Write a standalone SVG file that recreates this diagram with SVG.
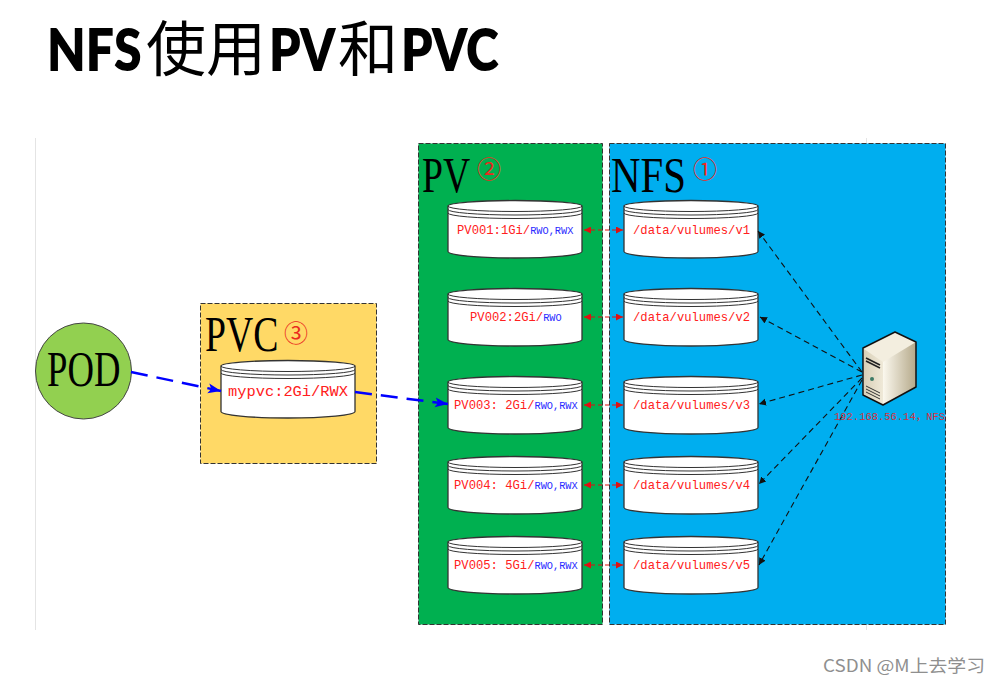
<svg xmlns="http://www.w3.org/2000/svg" width="999" height="684" viewBox="0 0 999 684">
<style>
.t{font-family:"Lato","Noto Sans CJK SC",sans-serif;font-weight:800;font-size:58px;fill:#000}
.tc{font-family:"Noto Sans CJK SC",sans-serif;font-weight:400;font-size:60px;fill:#000}
.big{font-family:"Liberation Serif",serif;font-size:51px;fill:#000}
.num{font-family:"Noto Sans CJK SC",sans-serif;font-weight:400;font-size:24px;fill:#ea2a1e}
.m{font-family:"Liberation Mono","Noto Sans CJK SC",monospace;font-size:12.200px;fill:#ff2020}
.b{fill:#2a2aff;font-size:10.300px}
.area{stroke:#333;stroke-width:1;stroke-dasharray:5 2}
.cyl{fill:#fff;stroke:#333;stroke-width:1.300}
.cl{fill:none;stroke:#333;stroke-width:1}
.blue{stroke:#0000ff;stroke-width:2.500;stroke-dasharray:17 9;fill:none}
.red{stroke:#e01010;stroke-width:1;stroke-dasharray:4 3;fill:none;marker-start:url(#rs);marker-end:url(#re)}
.blk{stroke:#111;stroke-width:1.100;stroke-dasharray:6 4;fill:none;marker-end:url(#k)}
</style>
<defs>
<marker id="bl" markerUnits="userSpaceOnUse" markerWidth="14" markerHeight="12" refX="13" refY="5" orient="auto"><path d="M0 0L13 5L0 10L3 5Z" fill="#0000ff"/></marker>
<marker id="re" markerUnits="userSpaceOnUse" markerWidth="8" markerHeight="8" refX="7" refY="3.500" orient="auto"><path d="M0 0L7 3.500L0 7Z" fill="#e01010"/></marker>
<marker id="rs" markerUnits="userSpaceOnUse" markerWidth="8" markerHeight="8" refX="0" refY="3.500" orient="auto"><path d="M7 0L0 3.500L7 7Z" fill="#e01010"/></marker>
<marker id="k" markerUnits="userSpaceOnUse" markerWidth="8" markerHeight="8" refX="7" refY="3.500" orient="auto"><path d="M0 0L7 3.500L0 7Z" fill="#111"/></marker>
<linearGradient id="sf" x1="0" y1="0" x2="1" y2="0"><stop offset="0" stop-color="#fbf8ee"/><stop offset="1" stop-color="#b5a98a"/></linearGradient>
<linearGradient id="ff" x1="0" y1="0" x2="1" y2="0"><stop offset="0" stop-color="#d9d0b8"/><stop offset="1" stop-color="#efe9d8"/></linearGradient>
<g id="cy">
<path class="cyl" d="M0 5V50.500A67 6.500 0 0 0 134 50.500V5A67 5.500 0 0 0 0 5Z"/>
<path class="cl" d="M0 5A67 5.500 0 0 0 134 5M0 8.500A67 5.500 0 0 0 134 8.500M0 12A67 5.500 0 0 0 134 12"/>
</g>
</defs>
<rect width="999" height="684" fill="#fff"/>
<g id="title">
<text class="t" transform="translate(47 71) scale(.86 1)">NFS</text>
<text class="tc" x="146" y="71">使用</text>
<text class="t" transform="translate(269 71) scale(.86 1)">PV</text>
<text class="tc" x="338" y="71">和</text>
<text class="t" transform="translate(401 71) scale(.86 1)">PVC</text>
</g>
<g id="guides" stroke="#e4e4e4" stroke-width="1"><path d="M35.500 138V630M866.500 138V143M866.500 625V630"/></g>
<g id="area-pv"><rect class="area" x="418.500" y="143.500" width="184" height="481" fill="#00b050"/>
<text class="big" transform="translate(422 192) scale(.74 1)">PV</text><text class="num" x="477" y="178">②</text></g>
<g id="area-nfs"><rect class="area" x="609.500" y="143.500" width="336" height="481" fill="#00aeef"/>
<text class="big" transform="translate(611 192) scale(.8 1)">NFS</text><text class="num" x="693" y="178">①</text></g>
<g id="area-pvc"><rect class="area" x="200.500" y="303.500" width="176" height="160" fill="#ffd966"/>
<text class="big" transform="translate(205 351) scale(.74 1)">PVC</text><text class="num" x="284" y="342">③</text></g>
<g id="pod"><circle cx="83.500" cy="371" r="48" fill="#92d050" stroke="#444" stroke-width="1"/>
<text class="big" transform="translate(47 386) scale(.72 1)">POD</text></g>
<g id="mypvc"><use href="#cy" x="221" y="361"/><text class="m" x="228" y="396" style="font-size:15px" textLength="120" lengthAdjust="spacingAndGlyphs">mypvc:2Gi/RWX</text></g>
<g id="pv001"><use href="#cy" x="448" y="201"/><text class="m" x="457" y="234">PV001:1Gi/<tspan class="b">RWO,RWX</tspan></text></g>
<g id="pv002"><use href="#cy" x="448" y="289"/><text class="m" x="470" y="321">PV002:2Gi/<tspan class="b">RWO</tspan></text></g>
<g id="pv003"><use href="#cy" x="448" y="377"/><text class="m" x="454" y="409">PV003: 2Gi/<tspan class="b">RWO,RWX</tspan></text></g>
<g id="pv004"><use href="#cy" x="448" y="457"/><text class="m" x="454" y="489">PV004: 4Gi/<tspan class="b">RWO,RWX</tspan></text></g>
<g id="pv005"><use href="#cy" x="448" y="537"/><text class="m" x="454" y="569">PV005: 5Gi/<tspan class="b">RWO,RWX</tspan></text></g>
<g id="v1"><use href="#cy" x="624" y="201"/><text class="m" x="633" y="234">/data/vulumes/v1</text></g>
<g id="v2"><use href="#cy" x="624" y="289"/><text class="m" x="633" y="321">/data/vulumes/v2</text></g>
<g id="v3"><use href="#cy" x="624" y="377"/><text class="m" x="633" y="409">/data/vulumes/v3</text></g>
<g id="v4"><use href="#cy" x="624" y="457"/><text class="m" x="633" y="489">/data/vulumes/v4</text></g>
<g id="v5"><use href="#cy" x="624" y="537"/><text class="m" x="633" y="569">/data/vulumes/v5</text></g>
<g id="connectors">
<path class="blue" marker-end="url(#bl)" d="M131 372L221 391"/>
<path class="blue" marker-end="url(#bl)" d="M355 392L448 404"/>
<path class="red" d="M584 230H623"/><path class="red" d="M584 317H623"/><path class="red" d="M584 405H623"/><path class="red" d="M584 485H623"/><path class="red" d="M584 565H623"/>
<path class="blk" d="M862 372L758 231"/><path class="blk" d="M862 372L760 317"/><path class="blk" d="M862 375L759 404"/><path class="blk" d="M862 378L759 484"/><path class="blk" d="M862 380L759 565"/>
</g>
<g id="server">
<path d="M863 348L895 332L916 342V387L883 405L863 395Z" fill="#f3eedf"/>
<path d="M883 362L916 342V387L883 405Z" fill="url(#sf)"/>
<path d="M864 349L883 362V404L864 394Z" fill="url(#ff)"/>
<path d="M863 348L895 332L916 342V387L883 405L863 395Z" fill="none" stroke="#111" stroke-width="1.500" stroke-linejoin="round"/>
<path d="M866 358L880 365M866 361L880 368" stroke="#222" stroke-width="1.600"/>
<path d="M866 386L880 393M866 389L880 396M866 392L880 399" stroke="#333" stroke-width="1"/>
<circle cx="872" cy="379" r="2" fill="#3d7a66"/>
</g>
<text id="server-label" x="834" y="420" font-family="Liberation Mono,Noto Sans CJK SC,monospace" font-size="10.500" fill="#d8303c" textLength="111" lengthAdjust="spacingAndGlyphs">192.168.56.14，NFS</text>
<text id="watermark" x="823" y="672" font-family="Noto Sans CJK SC,sans-serif" font-size="17" fill="#8f8f8f" textLength="162" lengthAdjust="spacingAndGlyphs">CSDN @M上去学习</text>
</svg>
